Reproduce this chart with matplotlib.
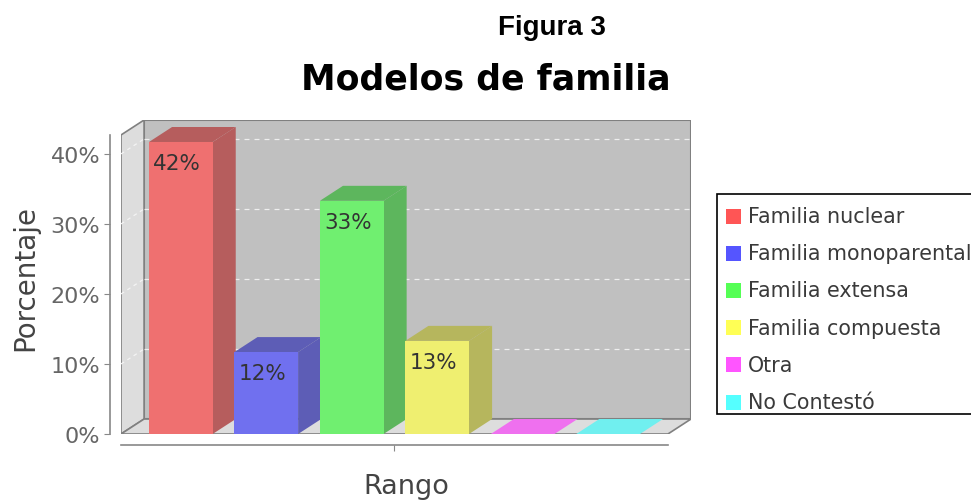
import matplotlib
matplotlib.use("Agg")
import matplotlib.pyplot as plt
from matplotlib.patches import Polygon, Rectangle

# data
series = ["Familia nuclear", "Familia monoparental", "Familia extensa",
          "Familia compuesta", "Otra", "No Contestó"]
values = [41.7, 11.7, 33.3, 13.3, 0.0, 0.0]
labels = ["42%", "12%", "33%", "13%", "", ""]
base_colors = ["#FF5555", "#5555FF", "#55FF55", "#FFFF55", "#FF55FF", "#55FFFF"]
yticks = [0, 10, 20, 30, 40]
category = "Rango"

W, H = 971, 502


def fx(x):
    return x / W


def fy(y):
    return 1 - y / H


def blend(hexcol, factor=1.0, alpha=0.75, bg=192):
    r, g, b = (int(hexcol[i:i + 2], 16) for i in (1, 3, 5))
    out = []
    for c in (r, g, b):
        c = c * factor
        out.append((alpha * c + (1 - alpha) * bg) / 255)
    return tuple(out)


fig = plt.figure(figsize=(W / 100, H / 100), dpi=100)
fig.patch.set_facecolor("white")

# 3D geometry in data units
X0, X1 = -0.70, 5.70
DX, DY = 0.27, 2.14
YTOP = 42.7
bar_w = 0.745

ax = fig.add_axes([fx(121), fy(435), fx(691) - fx(121), (435 - 121) / H])
ax.set_xlim(X0, X1 + DX)
ax.set_ylim(0, YTOP + DY)
ax.patch.set_visible(False)

edge = "#808080"
# back wall
ax.add_patch(Rectangle((X0 + DX, DY), X1 - X0, YTOP, facecolor="#C0C0C0",
                       edgecolor=edge, lw=1.5, zorder=1))
# left wall
ax.add_patch(Polygon([(X0, 0), (X0 + DX, DY), (X0 + DX, YTOP + DY), (X0, YTOP)],
                     closed=True, facecolor="#DDDDDD", edgecolor=edge, lw=1.2, zorder=1))
# floor
ax.add_patch(Polygon([(X0, 0), (X1, 0), (X1 + DX, DY), (X0 + DX, DY)],
                     closed=True, facecolor="#DDDDDD", edgecolor=edge, lw=1.2, zorder=1))

# gridlines on the back and left walls
for t in yticks[1:]:
    ax.plot([X0 + DX, X1 + DX], [t + DY, t + DY], color="#EEEEEE", lw=0.9,
            ls=(0, (4, 4)), zorder=2)
    ax.plot([X0, X0 + DX], [t, t + DY], color="#F4F4F4", lw=0.9,
            ls=(0, (3, 3)), zorder=2)

# bars
for i, (v, lab, col) in enumerate(zip(values, labels, base_colors)):
    l, r = i - bar_w / 2, i + bar_w / 2
    front = blend(col)
    dark = blend(col, 0.7)
    if v > 0:
        ax.add_patch(Polygon([(r, 0), (r + DX, DY), (r + DX, v + DY), (r, v)],
                             closed=True, facecolor=dark, lw=0, zorder=3))
        ax.add_patch(Polygon([(l, v), (r, v), (r + DX, v + DY), (l + DX, v + DY)],
                             closed=True, facecolor=dark, lw=0, zorder=3))
        ax.add_patch(Rectangle((l, 0), bar_w, v, facecolor=front, lw=0, zorder=4))
        ax.text(l + 0.05, v - 1.55, lab, ha="left", va="top", fontsize=15.5,
                color="#333333", zorder=5)
    else:
        ax.add_patch(Polygon([(l, 0), (r, 0), (r + DX, DY), (l + DX, DY)],
                             closed=True, facecolor=front, lw=0, zorder=3))

# axes
for s in ("top", "right"):
    ax.spines[s].set_visible(False)
ax.spines["left"].set_position(("outward", 8))
ax.spines["left"].set_bounds(0, YTOP)
ax.spines["bottom"].set_position(("outward", 8))
ax.spines["bottom"].set_bounds(X0, X1)
for s in ("left", "bottom"):
    ax.spines[s].set_color("#888888")
    ax.spines[s].set_linewidth(1.2)

ax.set_yticks(yticks)
ax.set_yticklabels([f"{t}%" for t in yticks])
ax.set_xticks([(X0 + X1) / 2])
ax.set_xticklabels([""])
ax.tick_params(axis="both", direction="out", length=4, color="#888888",
               labelsize=16, labelcolor="#666666", pad=3)

ax.set_ylabel("Porcentaje", fontsize=20, color="#444444", labelpad=8)
ax.set_xlabel(category, fontsize=19.5, color="#444444", labelpad=13)

# titles
fig.text(fx(552), fy(28), "Figura 3", ha="center", va="center",
         family="Liberation Sans", weight="bold", fontsize=20, color="black")
fig.text(fx(486), fy(80), "Modelos de familia", ha="center", va="center",
         weight="bold", fontsize=25, color="black")

# legend box
fig.patches.append(Rectangle((fx(717), fy(415)), fx(300), (415 - 195) / H,
                             transform=fig.transFigure, facecolor="white",
                             edgecolor="black", lw=1.2))
for k, (name, col) in enumerate(zip(series, base_colors)):
    yc = 217 + k * 37.2
    fig.patches.append(Rectangle((fx(726), fy(yc + 7.5)), fx(15), 15 / H,
                                 transform=fig.transFigure, facecolor=col, lw=0))
    fig.text(fx(748), fy(yc), name, ha="left", va="center", fontsize=14.9,
             color="#3a3a3a")

fig.savefig("out.png", dpi=100)
